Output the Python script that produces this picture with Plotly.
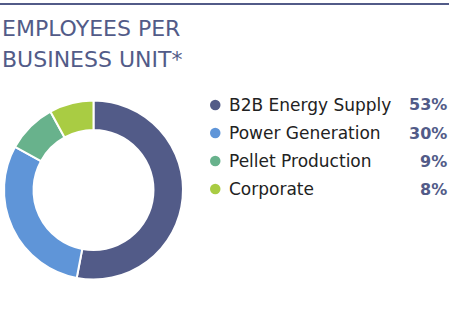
import plotly.graph_objects as go

title_lines = ["EMPLOYEES PER", "BUSINESS UNIT*"]
units = ["B2B Energy Supply", "Power Generation", "Pellet Production", "Corporate"]
shares = [53, 30, 9, 8]
colors = ["#525b88", "#5f95d8", "#68b28c", "#a9cc43"]

W, H = 457, 315

def px(x):
    return x / W

def py(y):
    return 1 - y / H

fig = go.Figure()
fig.add_trace(go.Pie(
    labels=units, values=shares, sort=False, direction="clockwise", rotation=0,
    hole=0.67, marker=dict(colors=colors, line=dict(color="white", width=2)),
    textinfo="none", hoverinfo="label+percent", showlegend=False,
    domain=dict(x=[px(4), px(183)], y=[py(280), py(100)]),
))

shapes = [dict(type="line", xref="paper", yref="paper", x0=0, x1=px(449), y0=py(4), y1=py(4),
               line=dict(color="#525b88", width=2))]

title_y = [28, 59]
annotations = []
for line, yy in zip(title_lines, title_y):
    annotations.append(dict(text=line, xref="paper", yref="paper", x=px(0), y=py(yy),
                            xanchor="left", yanchor="middle", align="left", showarrow=False,
                            font=dict(family="DejaVu Sans", size=22, color="#525b88")))

row_y = [105, 133, 161, 189]
for name, val, col, yy in zip(units, shares, colors, row_y):
    shapes.append(dict(type="circle", xref="paper", yref="paper",
                       x0=px(210), x1=px(220.5), y0=py(yy + 5.25), y1=py(yy - 5.25),
                       fillcolor=col, line=dict(width=0)))
    annotations.append(dict(text=name, xref="paper", yref="paper", x=px(227), y=py(yy),
                            xanchor="left", yanchor="middle", showarrow=False,
                            font=dict(family="DejaVu Sans", size=17, color="#222222")))
    annotations.append(dict(text=f"<b>{val}%</b>", xref="paper", yref="paper", x=px(449), y=py(yy),
                            xanchor="right", yanchor="middle", showarrow=False,
                            font=dict(family="DejaVu Sans", size=16, color="#525b88")))

fig.update_layout(width=W, height=H, margin=dict(l=0, r=0, t=0, b=0),
                  paper_bgcolor="white", plot_bgcolor="white",
                  shapes=shapes, annotations=annotations)
fig.write_html("out.html")
